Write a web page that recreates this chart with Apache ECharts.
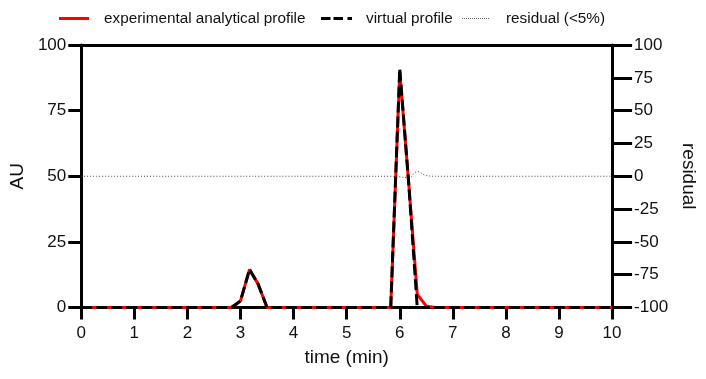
<!DOCTYPE html>
<html><head><meta charset="utf-8">
<script src="https://cdn.jsdelivr.net/npm/echarts@6/dist/echarts.min.js"></script>
<style>html,body{margin:0;padding:0;background:#fff}#c{width:706px;height:379px}</style>
</head><body><div id="c"></div>
<script>
var time = [0, 2.83, 3.0, 3.17, 3.33, 3.5, 5.83, 6.0, 6.17, 6.33, 6.5, 6.67, 10];
var experimental = [0, 0, 2.5, 14.5, 9, 0, 0, 90, 47, 5, 0.5, 0, 0];
var virtualProfile = [0, 0, 2.5, 14.5, 9, 0, 0, 91, 47, 0, 0, 0, 0];
var residual = [0, 0, 0, 0, 0, 0, 0, -0.5, -1, 3.5, 0.5, 0, 0];
var seriesNames = ['experimental analytical profile', 'virtual profile', 'residual (<5%)'];

function pairs(ys){ return time.map(function(t,i){ return [t, ys[i]]; }); }
var font = 'Liberation Sans, Arial, sans-serif';
var dotPath = 'path://';
for (var k = 0; k < 14; k++) { dotPath += 'M' + (k*2) + ',0h1v1h-1z'; }
function legendOf(name, left, icon, w, h, pad){
  return {
    left: left, top: 6, itemWidth: w, itemHeight: h,
    data: [{name: name, icon: icon}],
    textStyle: {fontFamily: font, fontSize: 15.3, color: '#111', padding: [0,0,0,pad]}
  };
}
var chart = echarts.init(document.getElementById('c'));
chart.setOption({
  animation: false,
  legend: [
    legendOf(seriesNames[0], 54, 'path://M0,0h30v3h-30z', 30, 3, 10),
    legendOf(seriesNames[1], 316, 'path://M0,0h9.5v3h-9.5zM12.5,0h9.5v3h-9.5zM26.5,0h4.5v3h-4.5z', 31, 3, 9),
    legendOf(seriesNames[2], 457, dotPath, 27, 1, 12)
  ],
  grid: {left: 78, right: 88.5, top: 45, bottom: 71.5},
  xAxis: [{
    type: 'value', min: 0, max: 10, interval: 1,
    name: 'time (min)', nameLocation: 'middle', nameGap: 41,
    nameTextStyle: {fontFamily: font, fontSize: 19, color: '#111'},
    axisLine: {onZero: false, lineStyle: {color: '#000', width: 3}},
    axisTick: {length: 12, lineStyle: {color: '#000', width: 3}},
    axisLabel: {fontFamily: font, fontSize: 17, color: '#111', margin: 17},
    splitLine: {show: false}
  }, {
    type: 'value', min: 0, max: 10, position: 'top',
    axisLine: {show: true, onZero: false, lineStyle: {color: '#000', width: 3}},
    axisTick: {show: false}, axisLabel: {show: false}, splitLine: {show: false}
  }],
  yAxis: [{
    type: 'value', min: 0, max: 100, interval: 25,
    name: 'AU', nameLocation: 'middle', nameGap: 39, nameRotate: 90,
    nameTextStyle: {fontFamily: font, fontSize: 19, color: '#111'},
    axisLine: {show: true, onZero: false, lineStyle: {color: '#000', width: 3}},
    axisTick: {show: true, length: 13, lineStyle: {color: '#000', width: 3}},
    axisLabel: {fontFamily: font, fontSize: 17, color: '#111', margin: 15},
    splitLine: {show: false}
  }, {
    type: 'value', min: -100, max: 100, interval: 25, position: 'right',
    name: 'residual', nameLocation: 'middle', nameGap: 64, nameRotate: -90,
    nameTextStyle: {fontFamily: font, fontSize: 19, color: '#111'},
    axisLine: {show: true, onZero: false, lineStyle: {color: '#000', width: 3}},
    axisTick: {show: true, length: 20, lineStyle: {color: '#000', width: 3}},
    axisLabel: {fontFamily: font, fontSize: 17, color: '#111', margin: 22},
    splitLine: {show: false}
  }],
  series: [{
    name: seriesNames[0], type: 'line', data: pairs(experimental),
    showSymbol: false, symbol: 'none', z: 2,
    lineStyle: {color: '#ff0000', width: 3}, itemStyle: {color: '#ff0000'}
  }, {
    name: seriesNames[1], type: 'line', data: pairs(virtualProfile),
    showSymbol: false, symbol: 'none', z: 3,
    lineStyle: {color: '#000', width: 3, type: [11, 4]}, itemStyle: {color: '#000'}
  }, {
    name: seriesNames[2], type: 'line', yAxisIndex: 1, data: pairs(residual),
    showSymbol: false, symbol: 'none', smooth: 0.4, z: 1,
    lineStyle: {color: '#444', width: 1, type: [1, 2]}, itemStyle: {color: '#666'}
  }]
});
</script></body></html>
